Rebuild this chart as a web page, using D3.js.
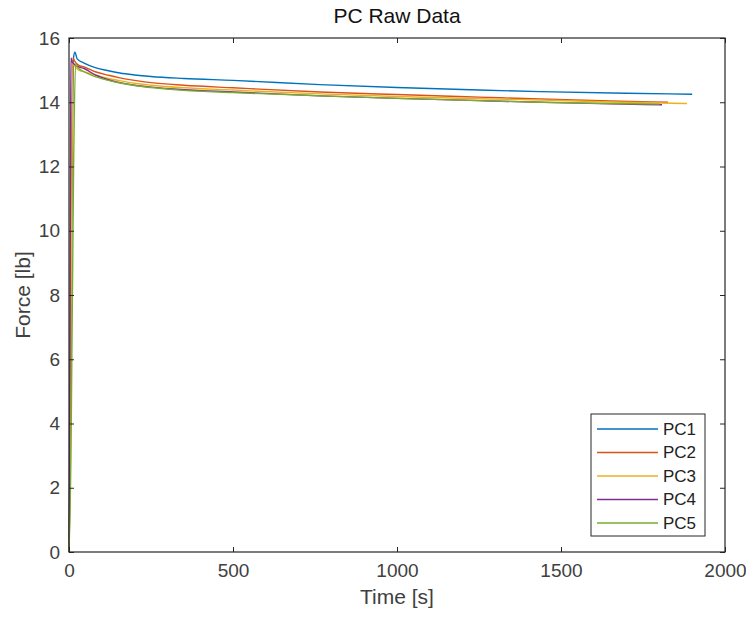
<!DOCTYPE html>
<html>
<head>
<meta charset="utf-8">
<script src="https://cdn.jsdelivr.net/npm/d3@7"></script>
<style>
  body { margin: 0; background: #fff; }
  svg { display: block; font-family: "Liberation Sans", Arial, sans-serif; }
</style>
</head>
<body>
<div id="chart"></div>
<script>
// series names and colours (MATLAB default order)
const seriesNames = ["PC1", "PC2", "PC3", "PC4", "PC5"];
const seriesColors = ["#0072BD", "#D95319", "#EDB120", "#7E2F8E", "#77AC30"];

// [time s, force lb]
const pc1 = [[0,0],[3,2],[8,10],[14,15.4],[18,15.56],[25,15.35],[46,15.22],[80,15.08],[120,14.98],[155,14.91],[200,14.85],[250,14.8],[350,14.74],[500,14.68],[765,14.55],[1000,14.46],[1250,14.38],[1436,14.33],[1700,14.28],[1900,14.25]];
const pc2 = [[0,0],[3,3],[8,12],[12,15.38],[16,15.3],[30,15.15],[46,15.1],[80,14.95],[120,14.84],[155,14.76],[200,14.68],[250,14.61],[350,14.53],[500,14.45],[765,14.32],[1000,14.24],[1250,14.16],[1436,14.1],[1650,14.04],[1826,14.0]];
const pc3 = [[0,0],[4,3],[9,12],[12,15.25],[16,15.15],[30,15.0],[46,14.95],[80,14.85],[120,14.74],[155,14.67],[200,14.59],[250,14.53],[350,14.45],[500,14.38],[765,14.26],[1000,14.18],[1250,14.11],[1436,14.07],[1650,14.01],[1884,13.96]];
const pc4 = [[0,0],[2,4],[5,13],[6,15.38],[10,15.25],[30,15.1],[46,15.05],[80,14.85],[120,14.7],[155,14.61],[200,14.53],[250,14.47],[350,14.39],[500,14.32],[765,14.2],[1000,14.12],[1250,14.05],[1436,14.0],[1650,13.95],[1808,13.92]];
const pc5 = [[0,0],[6,3],[14,12],[20,15.2],[25,15.1],[46,14.95],[80,14.8],[120,14.68],[155,14.6],[200,14.52],[250,14.46],[350,14.37],[500,14.3],[765,14.2],[1000,14.12],[1250,14.05],[1436,14.0],[1650,13.96],[1800,13.94]];
const allSeries = [pc1, pc2, pc3, pc4, pc5];

const xTicks = [0, 500, 1000, 1500, 2000];
const yTicks = [0, 2, 4, 6, 8, 10, 12, 14, 16];

const width = 746, height = 619;
const margin = { top: 38, right: 21, bottom: 67, left: 69 };
const innerW = width - margin.left - margin.right;
const innerH = height - margin.top - margin.bottom;
const axisColor = "#262626";

const svg = d3.select("#chart").append("svg")
    .attr("width", width)
    .attr("height", height);

const x = d3.scaleLinear().domain([0, 2000]).range([margin.left, margin.left + innerW]);
const y = d3.scaleLinear().domain([0, 16]).range([margin.top + innerH, margin.top]);

// lines
const line = d3.line().x(d => x(d[0])).y(d => y(d[1])).curve(d3.curveMonotoneX);
svg.append("g")
    .selectAll("path")
    .data(allSeries)
    .join("path")
    .attr("d", line)
    .attr("fill", "none")
    .attr("stroke", (d, i) => seriesColors[i])
    .attr("stroke-width", 1.4);

// axes with inward ticks, mirrored on top and right
function styleAxis(g) {
    g.select(".domain").remove();
    g.selectAll("line").attr("stroke", axisColor);
    g.selectAll("text").attr("fill", "#404040").attr("font-size", 19);
}

svg.append("g")
    .attr("transform", `translate(0,${margin.top + innerH})`)
    .call(d3.axisBottom(x).tickValues(xTicks).tickSizeInner(-5).tickPadding(12).tickFormat(d3.format("d")))
    .call(styleAxis);
svg.append("g")
    .attr("transform", `translate(0,${margin.top})`)
    .call(d3.axisTop(x).tickValues(xTicks).tickSizeInner(-5).tickFormat(""))
    .call(styleAxis);
svg.append("g")
    .attr("transform", `translate(${margin.left},0)`)
    .call(d3.axisLeft(y).tickValues(yTicks).tickSizeInner(-5).tickPadding(9))
    .call(styleAxis);
svg.append("g")
    .attr("transform", `translate(${margin.left + innerW},0)`)
    .call(d3.axisRight(y).tickValues(yTicks).tickSizeInner(-5).tickFormat(""))
    .call(styleAxis);

// box
svg.append("rect")
    .attr("x", margin.left)
    .attr("y", margin.top)
    .attr("width", innerW)
    .attr("height", innerH)
    .attr("fill", "none")
    .attr("stroke", axisColor)
    .attr("stroke-width", 1.2);

// labels
svg.append("text")
    .attr("x", margin.left + innerW / 2)
    .attr("y", 23)
    .attr("text-anchor", "middle")
    .attr("font-size", 21)
    .attr("fill", "#111")
    .text("PC Raw Data");
svg.append("text")
    .attr("x", margin.left + innerW / 2)
    .attr("y", 604)
    .attr("text-anchor", "middle")
    .attr("font-size", 21)
    .attr("fill", "#404040")
    .text("Time [s]");
svg.append("text")
    .attr("transform", `translate(30,${margin.top + innerH / 2}) rotate(-90)`)
    .attr("text-anchor", "middle")
    .attr("font-size", 21)
    .attr("fill", "#404040")
    .text("Force [lb]");

// legend
const legend = svg.append("g").attr("transform", "translate(591,414)");
legend.append("rect")
    .attr("width", 114)
    .attr("height", 122)
    .attr("fill", "#fff")
    .attr("stroke", axisColor);
const item = legend.selectAll("g")
    .data(seriesNames)
    .join("g")
    .attr("transform", (d, i) => `translate(0,${15 + i * 23.5})`);
item.append("line")
    .attr("x1", 6).attr("x2", 67)
    .attr("stroke", (d, i) => seriesColors[i])
    .attr("stroke-width", 1.4);
item.append("text")
    .attr("x", 72)
    .attr("dy", "0.35em")
    .attr("font-size", 17)
    .attr("fill", "#222")
    .text(d => d);
</script>
</body>
</html>
